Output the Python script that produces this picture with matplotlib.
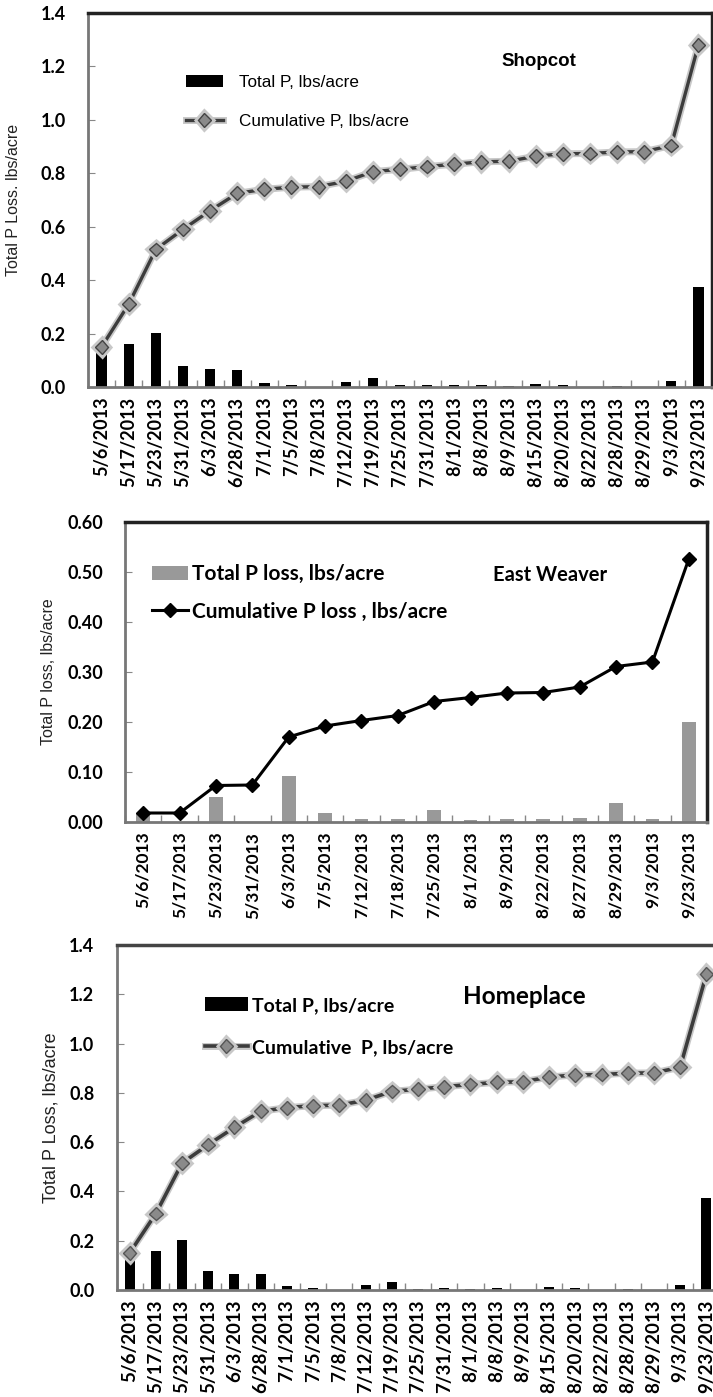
import numpy as np
import matplotlib
matplotlib.use('Agg')
import matplotlib.pyplot as plt
import matplotlib.patheffects as pe

# Shopcot / Homeplace storm dates and P loss (lbs/acre)
dates_a = ['5/6/2013', '5/17/2013', '5/23/2013', '5/31/2013', '6/3/2013', '6/28/2013',
           '7/1/2013', '7/5/2013', '7/8/2013', '7/12/2013', '7/19/2013', '7/25/2013',
           '7/31/2013', '8/1/2013', '8/8/2013', '8/9/2013', '8/15/2013', '8/20/2013',
           '8/22/2013', '8/28/2013', '8/29/2013', '9/3/2013', '9/23/2013']
total_a = [0.15, 0.16, 0.202, 0.078, 0.066, 0.065, 0.015, 0.007, 0.001, 0.019, 0.033, 0.006,
           0.009, 0.006, 0.009, 0.002, 0.013, 0.008, 0.001, 0.004, 0.001, 0.022, 0.373]
cum_a = [0.15, 0.31, 0.515, 0.59, 0.66, 0.725, 0.74, 0.748, 0.75, 0.77, 0.806, 0.815,
         0.825, 0.834, 0.843, 0.845, 0.864, 0.873, 0.874, 0.88, 0.881, 0.904, 1.281]

# East Weaver
dates_b = ['5/6/2013', '5/17/2013', '5/23/2013', '5/31/2013', '6/3/2013', '7/5/2013',
           '7/12/2013', '7/18/2013', '7/25/2013', '8/1/2013', '8/9/2013', '8/22/2013',
           '8/27/2013', '8/29/2013', '9/3/2013', '9/23/2013']
total_b = [0.017, 0.0, 0.051, 0.001, 0.092, 0.019, 0.007, 0.007, 0.025, 0.005, 0.007, 0.007,
           0.008, 0.038, 0.007, 0.201]
cum_b = [0.018, 0.018, 0.073, 0.074, 0.17, 0.192, 0.203, 0.213, 0.241, 0.249, 0.258, 0.259,
         0.27, 0.311, 0.32, 0.526]

W, H = 713, 1397
fig = plt.figure(figsize=(W / 100, H / 100), dpi=100)


def box(l, t, r, b):
    return [l / W, 1 - b / H, (r - l) / W, (b - t) / H]


def setup(ax, dates, ymax, yticks, yfmt, ylab, ylab_size, ylab_x, xsize):
    n = len(dates)
    ax.set_xlim(-0.5, n - 0.5)
    ax.set_ylim(0, ymax)
    ax.set_xticks(range(n))
    ax.set_xticklabels(dates, rotation=90, fontsize=xsize, fontweight='bold', family='Lato')
    ax.set_xticks(np.arange(n + 1) - 0.5, minor=True)
    ax.tick_params(axis='x', which='major', length=0, pad=7)
    ax.tick_params(axis='x', which='minor', direction='in', length=5, color='#888888', width=1)
    ax.set_yticks(yticks)
    ax.set_yticklabels([yfmt % v for v in yticks], fontsize=13, fontweight='bold', family='Lato')
    ax.tick_params(axis='y', direction='in', length=5, color='#888888', pad=16)
    for s in ['left', 'bottom']:
        ax.spines[s].set_color('#777777')
        ax.spines[s].set_linewidth(2)
    for s in ['top', 'right']:
        ax.spines[s].set_color('#222222')
        ax.spines[s].set_linewidth(2.5)
    ax.set_ylabel(ylab, fontsize=ylab_size, family='Liberation Sans', color='#222222')
    ax.yaxis.set_label_coords(ylab_x, 0.5)


glow = [pe.Stroke(linewidth=5, foreground='#c8c8c8'), pe.Normal()]

# ---- Shopcot
ax1 = fig.add_axes(box(88, 13, 712, 387))
x = np.arange(len(dates_a))
b1 = ax1.bar(x, total_a, width=0.38, color='black', label='Total P, lbs/acre', zorder=2)
l1, = ax1.plot(x, cum_a, color='#3c3c3c', lw=2.4, marker='D', ms=7, mfc='#8a8a8a', mec='#444444',
               mew=1, label='Cumulative P, lbs/acre', zorder=3, path_effects=glow)
setup(ax1, dates_a, 1.4, [0.0, 0.2, 0.4, 0.6, 0.8, 1.0, 1.2, 1.4], '%.1f',
      'Total P Loss. lbs/acre', 11.5, -0.107, 13)
ax1.legend(handles=[b1, l1], loc='center left', bbox_to_anchor=(0.157, 0.761), frameon=False,
           borderpad=0, borderaxespad=0, handlelength=2.16, handletextpad=0.94,
           labelspacing=1.4, prop={'family': 'Liberation Sans', 'size': 12.3})
ax1.text(0.723, 0.869, 'Shopcot', transform=ax1.transAxes, ha='center', va='center',
         fontsize=13.5, fontweight='bold', family='Liberation Sans')

# ---- East Weaver
ax2 = fig.add_axes(box(125, 522, 707, 822))
x = np.arange(len(dates_b))
b2 = ax2.bar(x, total_b, width=0.38, color='#999999', label='Total P loss, lbs/acre', zorder=2)
l2, = ax2.plot(x, cum_b, color='black', lw=2.2, marker='D', ms=7, mfc='black', mec='black',
               label='Cumulative P loss , lbs/acre', zorder=3)
setup(ax2, dates_b, 0.6, [0.0, 0.1, 0.2, 0.3, 0.4, 0.5, 0.6], '%.2f',
      'Total P loss, lbs/acre', 11.5, -0.118, 12.5)
ax2.legend(handles=[b2, l2], loc='center left', bbox_to_anchor=(0.0464, 0.763), frameon=False,
           borderpad=0, borderaxespad=0, handlelength=1.73, handletextpad=0.2,
           labelspacing=0.83, prop={'family': 'Lato', 'weight': 'bold', 'size': 15})
ax2.text(0.73, 0.823, 'East Weaver', transform=ax2.transAxes, ha='center', va='center',
         fontsize=14.5, fontweight='bold', family='Lato')

# ---- Homeplace
ax3 = fig.add_axes(box(116.5, 945, 719.5, 1290))
x = np.arange(len(dates_a))
b3 = ax3.bar(x, total_a, width=0.38, color='black', label='Total P, lbs/acre', zorder=2)
l3, = ax3.plot(x, cum_a, color='#3c3c3c', lw=2.6, marker='D', ms=7, mfc='#8a8a8a', mec='#555555',
               mew=1, label='Cumulative  P, lbs/acre', zorder=3, path_effects=glow)
setup(ax3, dates_a, 1.4, [0.0, 0.2, 0.4, 0.6, 0.8, 1.0, 1.2, 1.4], '%.1f',
      'Total P Loss, lbs/acre', 13, -0.094, 13.5)
ax3.spines['top'].set_color('#444444')
ax3.legend(handles=[b3, l3], loc='center left', bbox_to_anchor=(0.1468, 0.764), frameon=False,
           borderpad=0, borderaxespad=0, handlelength=2.2, handletextpad=0.2,
           labelspacing=1.3, prop={'family': 'Lato', 'weight': 'bold', 'size': 14})
ax3.text(0.677, 0.852, 'Homeplace', transform=ax3.transAxes, ha='center', va='center',
         fontsize=17.5, fontweight='bold', family='Lato')

fig.savefig('out.png', dpi=100)
